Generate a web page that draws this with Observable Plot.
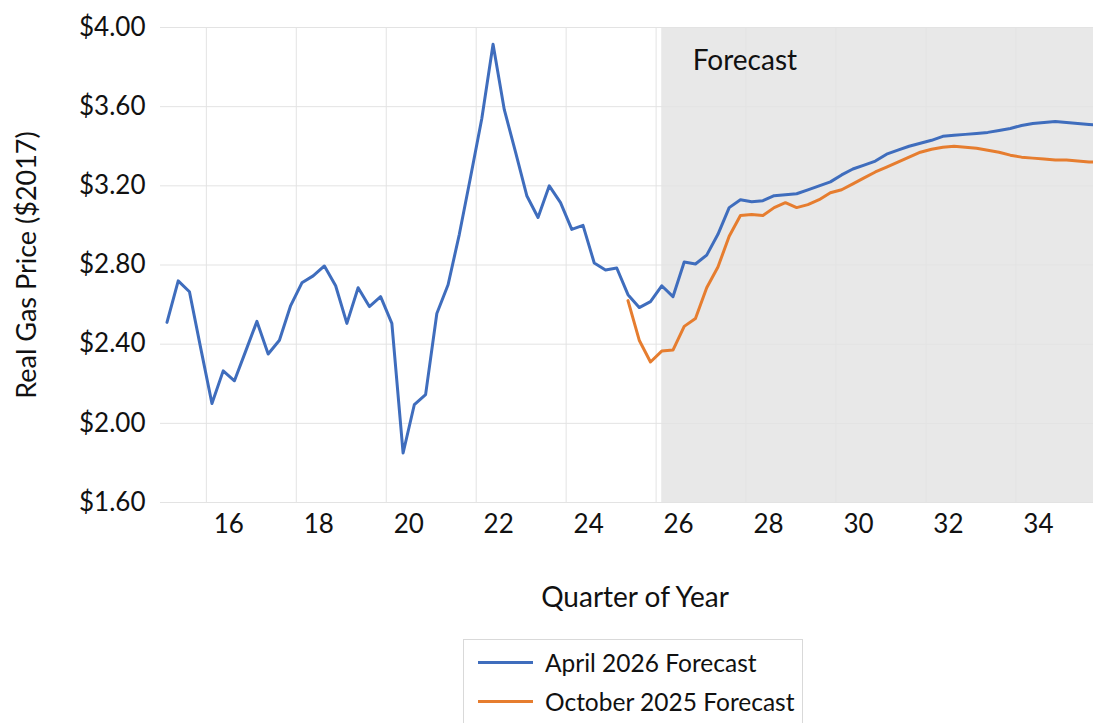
<!DOCTYPE html>
<html><head><meta charset="utf-8">
<script src="https://cdn.jsdelivr.net/npm/d3@7"></script>
<script src="https://cdn.jsdelivr.net/npm/@observablehq/plot@0.6"></script>
<style>
body{margin:0;background:#fff;font-family:Lato,"Open Sans",sans-serif;}
#wrap{position:relative;width:1093px;height:723px;overflow:hidden;}
.legend{position:absolute;left:463px;top:639px;width:340px;height:100px;border:1px solid #d9d9d9;box-sizing:border-box;background:#fff;}
.item{position:absolute;left:14px;height:30px;display:flex;align-items:center;font-size:24.5px;color:#111;white-space:nowrap;}
.sw{width:55px;height:3px;margin-right:12px;}
</style></head>
<body><div id="wrap"></div>
<script>
// Categories: quarters from 2015 Q1 onward
const years = [2015,2016,2017,2018,2019,2020,2021,2022,2023,2024,2025,2026,2027,2028,2029,2030,2031,2032,2033,2034,2035];
const quarterNames = ["Q1","Q2","Q3","Q4"];
// Tick labels (two-digit year, centred on the year)
const tickYears = [16,18,20,22,24,26,28,30,32,34];
// Year boundaries with gridlines
const gridYears = [16,18,20,22,24,26,28,30,32,34];
const yTicks = [1.6,2.0,2.4,2.8,3.2,3.6,4.0];
const forecastStart = "2026 Q1";

// April 2026 Forecast, starting 2015 Q1
const april = [2.51,2.72,2.665,2.38,2.10,2.265,2.215,2.365,2.515,2.35,2.42,2.595,2.71,2.745,2.795,2.695,2.505,2.685,2.59,2.64,2.505,1.85,2.095,2.145,2.555,2.70,2.955,3.245,3.54,3.915,3.585,3.37,3.15,3.04,3.20,3.115,2.98,3.00,2.81,2.775,2.785,2.65,2.585,2.615,2.695,2.64,2.815,2.805,2.85,2.955,3.09,3.13,3.12,3.125,3.15,3.155,3.16,3.18,3.20,3.22,3.255,3.285,3.305,3.325,3.36,3.38,3.40,3.415,3.43,3.45,3.455,3.46,3.465,3.47,3.48,3.49,3.505,3.515,3.52,3.525,3.52,3.515,3.51,3.505];
// October 2025 Forecast, starting 2025 Q2
const octoberStart = "2025 Q2";
const october = [2.62,2.42,2.31,2.365,2.37,2.49,2.53,2.685,2.79,2.945,3.05,3.055,3.05,3.09,3.115,3.09,3.105,3.13,3.165,3.18,3.21,3.24,3.27,3.295,3.32,3.345,3.37,3.385,3.395,3.40,3.395,3.39,3.38,3.37,3.355,3.345,3.34,3.335,3.33,3.33,3.325,3.32,3.32];

const quarters = years.flatMap(y => quarterNames.map((q, i) => ({label: `${y} ${q}`, t: (y - 2000) + i / 4})));
const pos = Object.fromEntries(quarters.map(d => [d.label, d.t]));
const octIdx = quarters.findIndex(d => d.label === octoberStart);

const data = [
  ...april.map((v, i) => ({series: "April 2026 Forecast", t: quarters[i].t, v})),
  ...october.map((v, i) => ({series: "October 2025 Forecast", t: quarters[octIdx + i].t, v}))
];
const colors = {"April 2026 Forecast": "#3f6dbd", "October 2025 Forecast": "#e67d2f"};

const xDomain = [14.856, 35.6];
const chart = Plot.plot({
  width: 1093,
  height: 723,
  marginLeft: 160,
  marginRight: 0,
  marginTop: 27,
  marginBottom: 221,
  style: {fontFamily: "Lato, 'Open Sans', sans-serif", fontSize: "26px", color: "#111", background: "#fff"},
  x: {domain: xDomain},
  y: {domain: [1.6, 4.0]},
  color: {domain: Object.keys(colors), range: Object.values(colors)},
  marks: [
    Plot.rect([{a: pos[forecastStart], b: xDomain[1]}], {x1: "a", x2: "b", y1: 1.6, y2: 4.0, fill: "#e8e8e8"}),
    Plot.ruleY(yTicks, {stroke: "#e3e3e3", strokeWidth: 1}),
    Plot.ruleX(gridYears.map(y => y - 0.125), {y1: 1.6, y2: 4.0, stroke: "#e3e3e3", strokeWidth: 1}),
    Plot.axisY({ticks: yTicks, tickSize: 0, tickPadding: 15, tickFormat: d => "$" + d.toFixed(2), label: null, fontSize: 26}),
    Plot.axisX({ticks: tickYears.map(y => y + 0.375), tickSize: 0, tickPadding: 12, tickFormat: d => String(Math.round(d - 0.375)), label: null, fontSize: 26}),
    Plot.line(data, {x: "t", y: "v", z: "series", stroke: d => colors[d.series], strokeWidth: 3, clip: true, strokeLinejoin: "round"}),
    Plot.text(["Forecast"], {x: () => pos[forecastStart], text: d => d, frameAnchor: "top", textAnchor: "start", dx: 31, dy: 23, fontSize: 28, fill: "#111"}),
    Plot.text(["Real Gas Price ($2017)"], {text: d => d, frameAnchor: "left", textAnchor: "middle", rotate: -90, dx: -133, fontSize: 27, fill: "#111"}),
    Plot.text(["Quarter of Year"], {text: d => d, frameAnchor: "bottom", textAnchor: "middle", dx: 8, dy: 104, fontSize: 28, fill: "#111"})
  ]
});
const wrap = document.getElementById("wrap");
wrap.appendChild(chart);
const legend = document.createElement("div");
legend.className = "legend";
Object.entries(colors).forEach(([name, c], i) => {
  const it = document.createElement("div");
  it.className = "item";
  it.style.top = (7 + i * 39) + "px";
  it.innerHTML = `<span class="sw" style="background:${c}"></span><span>${name}</span>`;
  legend.appendChild(it);
});
wrap.appendChild(legend);
</script>
</body></html>
